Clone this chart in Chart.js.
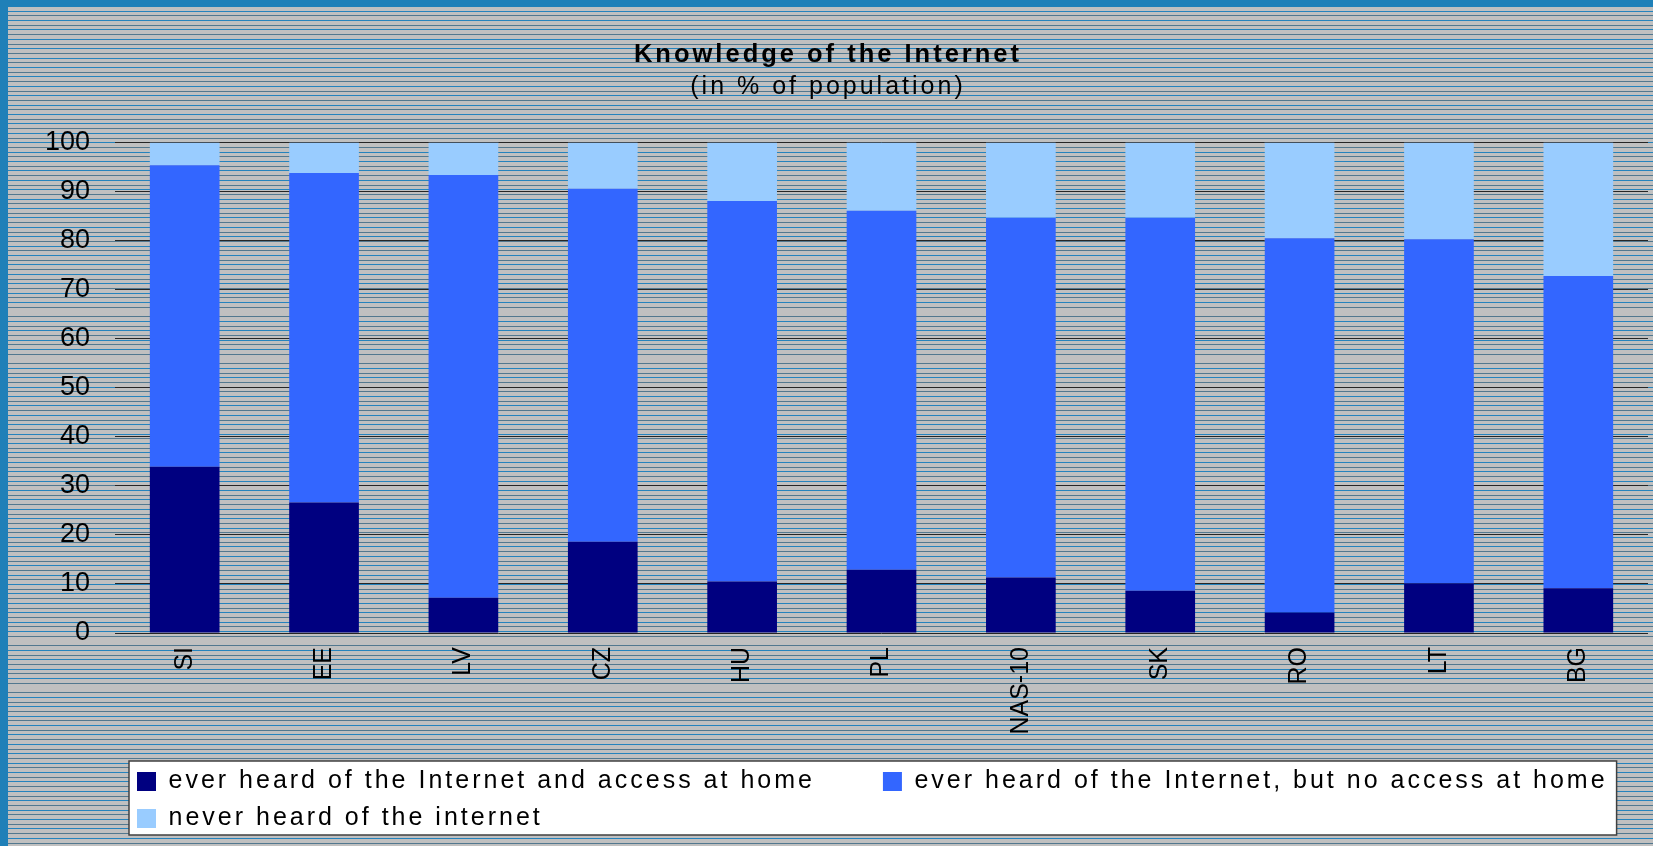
<!DOCTYPE html>
<html>
<head>
<meta charset="utf-8">
<script src="https://cdn.jsdelivr.net/npm/chart.js@4/dist/chart.umd.min.js"></script>
<style>
  html, body { margin: 0; padding: 0; }
  body { width: 1653px; height: 846px; position: relative; overflow: hidden; }
  #bg {
    position: absolute; left: 0; top: 0; width: 1645px; height: 839px;
    border-left: 8px solid #1f80b8; border-top: 7px solid #1f80b8;
    background: repeating-linear-gradient(to bottom,
      #c0c0c0 0px, #c0c0c0 3.7px, #2583bd 3.7px, #2583bd 4.7px,
      #c0c0c0 4.7px, #c0c0c0 8.4px, #52788f 8.4px, #52788f 9.4px);
  }
  #chart { position: absolute; left: 0; top: 0; }
</style>
</head>
<body>
<div id="bg"></div>
<canvas id="chart" width="1653" height="846"></canvas>
<script>
// values (% of population)
const countries = ["SI", "EE", "LV", "CZ", "HU", "PL", "NAS-10", "SK", "RO", "LT", "BG"];
const accessAtHome = [33.9, 26.6, 7.2, 18.6, 10.5, 12.9, 11.3, 8.6, 4.2, 10.1, 9.1];
const noAccessAtHome = [61.5, 67.2, 86.2, 72.0, 77.6, 73.2, 73.4, 76.1, 76.3, 70.2, 63.7];
const neverHeard = [4.6, 6.2, 6.6, 9.4, 11.9, 13.9, 15.3, 15.3, 19.5, 19.7, 27.2];
const yTicks = [0, 10, 20, 30, 40, 50, 60, 70, 80, 90, 100];

const seriesNames = [
  "ever heard of the Internet and access at home",
  "ever heard of the Internet, but no access at home",
  "never heard of the internet",
];

const FONT = "'Liberation Sans', Arial, sans-serif";

// spaced-out lettering for title + legend, white legend panel
const spacing = {
  id: "spacing",
  beforeUpdate(chart) {
    chart.ctx.letterSpacing = "3px";
  },
  afterLayout(chart) {
    chart.legend.left += 10;
    chart.legend.right += 10;
  },
  beforeDraw(chart) {
    const ctx = chart.ctx;
    ctx.letterSpacing = "3px";
    const boxes = chart.legend.legendHitBoxes;
    if (!boxes || !boxes.length) return;
    const l = Math.min(...boxes.map(b => b.left)) - 8;
    const t = Math.min(...boxes.map(b => b.top)) - 8;
    const r = Math.max(...boxes.map(b => b.left + b.width)) + 9;
    const b = Math.max(...boxes.map(b => b.top + b.height)) + 4;
    ctx.save();
    ctx.fillStyle = "#ffffff";
    ctx.fillRect(l, t, r - l, b - t);
    ctx.strokeStyle = "#404040";
    ctx.lineWidth = 1.5;
    ctx.strokeRect(l, t, r - l, b - t);
    ctx.restore();
  },
  // tick labels are drawn after the bars (z: 1), plain spacing there
  afterDatasetsDraw(chart) {
    chart.ctx.letterSpacing = "0px";
  },
};

const ctx = document.getElementById("chart").getContext("2d");

new Chart(ctx, {
  type: "bar",
  data: {
    labels: countries,
    datasets: [
      { label: seriesNames[0], data: accessAtHome, backgroundColor: "#000080" },
      { label: seriesNames[1], data: noAccessAtHome, backgroundColor: "#3366ff" },
      { label: seriesNames[2], data: neverHeard, backgroundColor: "#99ccff" },
    ],
  },
  options: {
    responsive: false,
    animation: false,
    devicePixelRatio: 1,
    datasets: {
      bar: { barPercentage: 0.5, categoryPercentage: 1.0, borderWidth: 0 },
    },
    layout: { padding: { top: 7, left: 8, right: 5, bottom: 5 } },
    scales: {
      x: {
        stacked: true,
        grid: { display: false },
        border: { display: false },
        ticks: {
          z: 1,
          color: "#000",
          font: { family: FONT, size: 25 },
          minRotation: 90,
          maxRotation: 90,
          padding: 6,
        },
        afterFit(scale) { scale.height = 124; },
      },
      y: {
        stacked: true,
        min: 0,
        max: 100,
        afterBuildTicks(scale) { scale.ticks = yTicks.map(v => ({ value: v })); },
        grid: { color: "#262626", lineWidth: 1, drawTicks: false },
        border: { display: false },
        ticks: {
          z: 1,
          color: "#000",
          font: { family: FONT, size: 27 },
          padding: 25,
        },
        afterFit(scale) { scale.width = 107; },
      },
    },
    plugins: {
      title: {
        display: true,
        text: "Knowledge of the Internet",
        color: "#000",
        font: { family: FONT, size: 25.5, weight: "bold" },
        padding: { top: 33, bottom: 2 },
      },
      subtitle: {
        display: true,
        text: "(in % of population)",
        color: "#000",
        font: { family: FONT, size: 25 },
        padding: { top: 0, bottom: 40 },
      },
      legend: {
        position: "bottom",
        align: "start",
        fullSize: false,
        labels: {
          color: "#000",
          font: { family: FONT, size: 25 },
          boxWidth: 19,
          boxHeight: 19,
          padding: 12,
          generateLabels(chart) {
            const items = Chart.defaults.plugins.legend.labels.generateLabels(chart);
            items[0].text += "\u2003\u2003";
            return items;
          },
        },
      },
      tooltip: { enabled: false },
    },
  },
  plugins: [spacing],
});
</script>
</body>
</html>
